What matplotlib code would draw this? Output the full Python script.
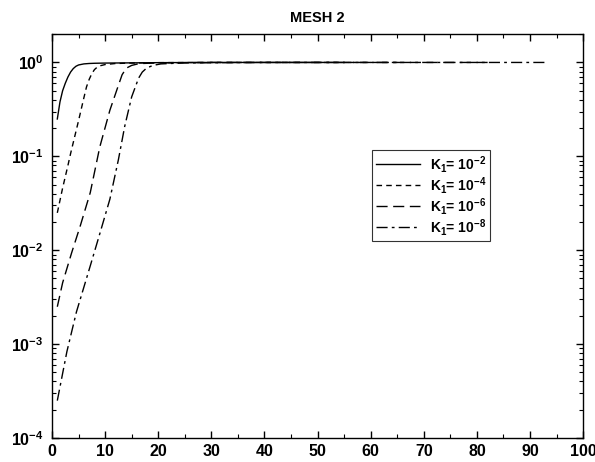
import matplotlib
matplotlib.use("Agg")
import matplotlib.pyplot as plt
from matplotlib.ticker import MultipleLocator, LogLocator, NullFormatter

plt.rcParams['font.family'] = ['Liberation Sans', 'DejaVu Sans']
plt.rcParams['font.weight'] = 'bold'
plt.rcParams['mathtext.fontset'] = 'custom'
plt.rcParams['mathtext.rm'] = 'Liberation Sans:bold'
plt.rcParams['mathtext.bf'] = 'Liberation Sans:bold'
plt.rcParams['mathtext.it'] = 'Liberation Sans:bold'
plt.rcParams['mathtext.default'] = 'bf'
plt.rcParams['axes.unicode_minus'] = False

title = "MESH 2"
labels = ["K$_1$= 10$^{-2}$", "K$_1$= 10$^{-4}$", "K$_1$= 10$^{-6}$", "K$_1$= 10$^{-8}$"]

x_k2 = [1, 1.5, 2, 2.5, 3, 3.5, 4, 4.5, 5, 6, 7, 8, 10, 15, 20, 30, 40, 55]
y_k2 = [0.25, 0.38, 0.50, 0.60, 0.70, 0.79, 0.86, 0.91, 0.94, 0.965, 0.975, 0.98, 0.985, 0.99, 0.995, 1.0, 1.0, 1.0]

x_k4 = [1, 2, 3, 3.5, 4, 5, 6, 6.5, 7, 7.5, 8, 8.5, 9, 10, 12, 15, 20, 30, 45, 65]
y_k4 = [0.025, 0.046, 0.080, 0.107, 0.14, 0.24, 0.42, 0.55, 0.66, 0.76, 0.84, 0.89, 0.92, 0.95, 0.975, 0.985, 0.995, 1.0, 1.0, 1.0]

x_k6 = [1, 2, 3.7, 5.3, 7.2, 9.0, 10.9, 12.5, 13.2, 14.0, 15.0, 16, 17, 20, 30, 50, 83]
y_k6 = [0.0025, 0.0045, 0.0094, 0.018, 0.041, 0.126, 0.31, 0.57, 0.74, 0.87, 0.93, 0.96, 0.975, 0.99, 1.0, 1.0, 1.0]

x_k8 = [1, 2.8, 4.6, 7.2, 9.0, 10.9, 12.5, 13.7, 15.0, 16.3, 17.0, 17.8, 19, 20.5, 25, 40, 60, 93]
y_k8 = [0.00025, 0.00083, 0.0022, 0.0068, 0.015, 0.035, 0.092, 0.21, 0.43, 0.68, 0.79, 0.87, 0.93, 0.965, 0.99, 1.0, 1.0, 1.0]

fig = plt.figure(figsize=(5.95, 4.62), dpi=100)
ax = fig.add_axes([0.0874, 0.052, 0.8926, 0.874])

ax.plot(x_k2, y_k2, color='black', lw=1.0, linestyle='-', label=labels[0])
ax.plot(x_k4, y_k4, color='black', lw=1.0, linestyle=(0, (4, 3)), label=labels[1])
ax.plot(x_k6, y_k6, color='black', lw=1.0, linestyle=(0, (8, 4)), label=labels[2])
ax.plot(x_k8, y_k8, color='black', lw=1.0, linestyle=(0, (8, 3, 2, 3)), label=labels[3])

ax.set_yscale('log')
ax.set_xlim(0, 100)
ax.set_ylim(1e-4, 2)
ax.xaxis.set_major_locator(MultipleLocator(10))
ax.xaxis.set_minor_locator(MultipleLocator(5))
ax.yaxis.set_major_locator(LogLocator(base=10, numticks=10))
ax.yaxis.set_minor_locator(LogLocator(base=10, subs=range(2, 10), numticks=20))
ax.yaxis.set_minor_formatter(NullFormatter())
ax.tick_params(which='both', direction='in', top=True, right=True, labelsize=11.5)
ax.tick_params(which='major', length=5, width=1)
ax.tick_params(which='minor', length=3, width=0.8)
ax.tick_params(axis='y', which='major', pad=6)
ax.tick_params(axis='x', which='major', pad=4)
for lab in ax.get_xticklabels() + ax.get_yticklabels():
    lab.set_fontweight('bold')
for s in ax.spines.values():
    s.set_linewidth(1.0)

ax.set_title(title, fontsize=10.5, fontweight='bold', pad=9)

leg = ax.legend(loc='upper left', bbox_to_anchor=(0.603, 0.713), fontsize=10,
                frameon=True, fancybox=False, edgecolor='black',
                handlelength=3.2, handletextpad=0.7, labelspacing=0.0,
                borderpad=0.25, borderaxespad=0)
leg.get_frame().set_linewidth(0.8)

fig.savefig('out.png', dpi=100)
